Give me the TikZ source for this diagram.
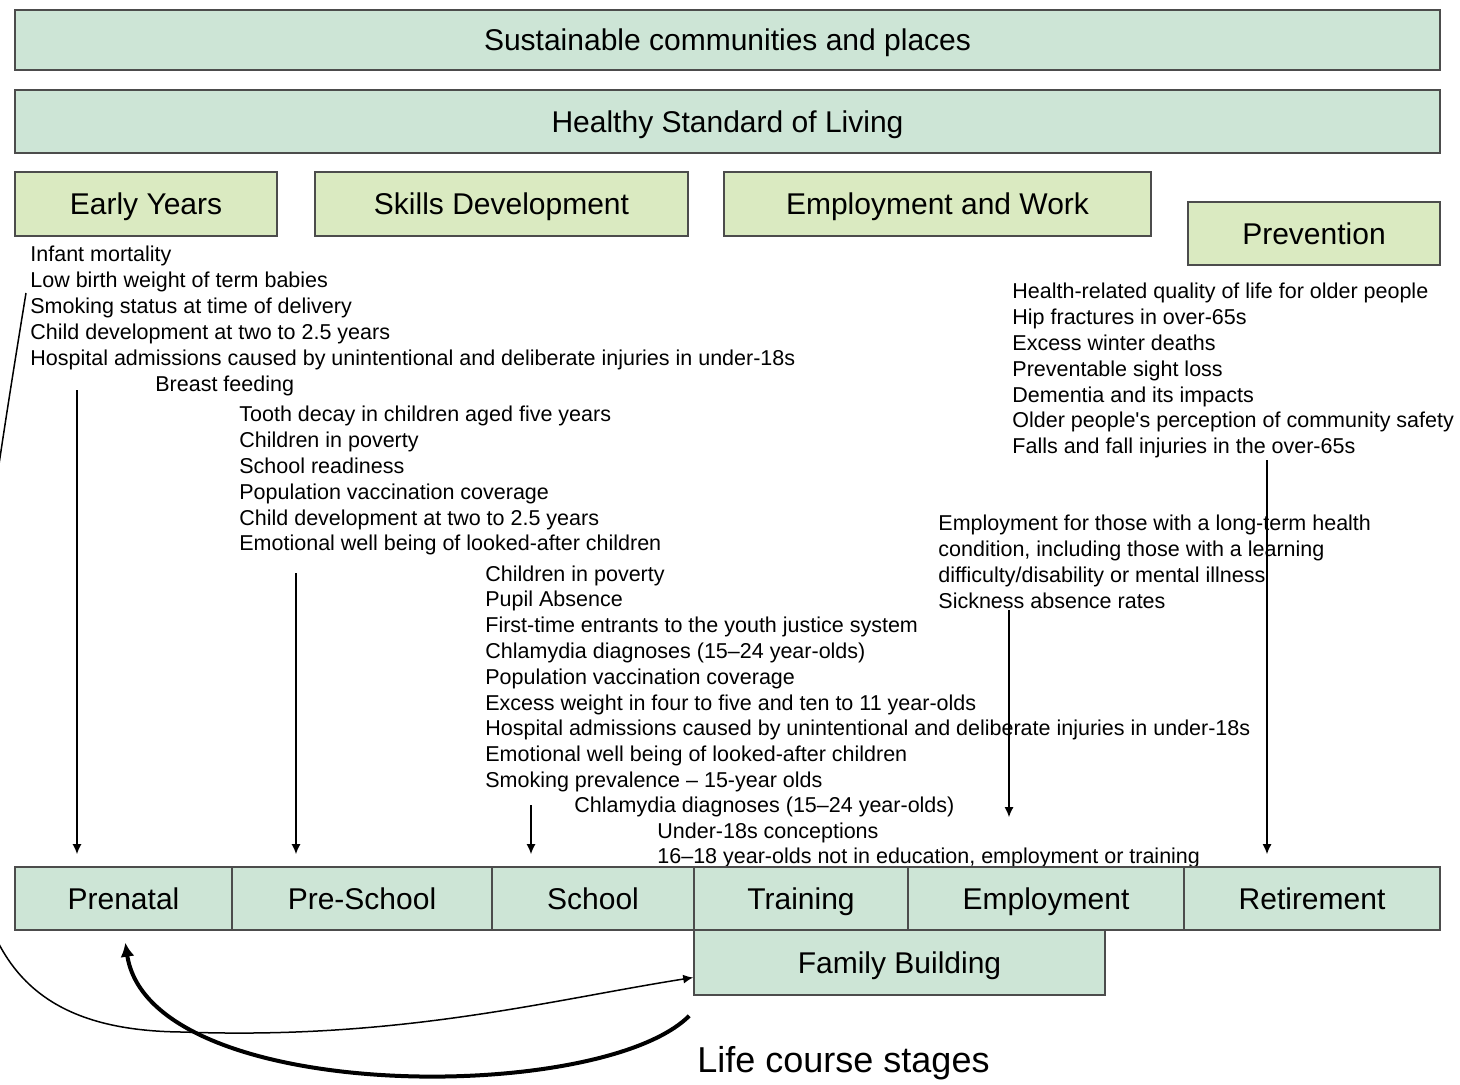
\documentclass[tikz,border=0pt]{standalone}
\usepackage{fontspec}
\setmainfont{Liberation Sans}[Ligatures=TeXOff]
\usepackage{tikz}
\usetikzlibrary{arrows.meta}
\definecolor{mint}{HTML}{CDE5D6}
\definecolor{leaf}{HTML}{DAEAC1}

\begin{document}
\begin{tikzpicture}[x=0.5pt, y=-0.5pt, >={Latex[length=5pt,width=4.5pt]},
    band/.style={draw=black!70, line width=0.8pt, fill=mint, inner sep=0pt, text height=13pt, text depth=2.3pt, font=\fontsize{15}{18}\selectfont},
    theme/.style={band, fill=leaf, minimum height=32pt},
    stage/.style={band, minimum height=31.5pt},
    indic/.style={anchor=north west, align=left, inner sep=0pt, font=\fontsize{10.75}{12.9}\selectfont},
    feed/.style={->, line width=0.8pt}]

        \clip (0,0) rectangle (1460,1084);
        \fill[white] (0,0) rectangle (1460,1084);

        % Overarching bands
        \node[band, minimum width=712.5pt, minimum height=30pt] (sus) at (727.5,40) {Sustainable communities and places};
        \node[band, minimum width=712.5pt, minimum height=31.5pt] (hsl) at (727.5,121.5) {Healthy Standard of Living};

        % Policy themes
        \node[theme, minimum width=131pt] (early) at (146,204) {Early Years};
        \node[theme, minimum width=186.5pt] (skills) at (501.5,204) {Skills Development};
        \node[theme, minimum width=213.5pt] (work) at (937.5,204) {Employment and Work};
        \node[theme, minimum width=126pt, minimum height=31.5pt] (prev) at (1314,233.5) {Prevention};

        % Indicators
        \node[indic] (eyind) at (30,246) {Infant mortality\\
            Low birth weight of term babies\\
            Smoking status at time of delivery\\
            Child development at two to 2.5 years\\
            Hospital admissions caused by unintentional and deliberate injuries in under-18s};
        \node[indic] (bf) at (155,376) {Breast feeding};
        \node[indic] (sdind) at (239,406) {Tooth decay in children aged five years\\
            Children in poverty\\
            School readiness\\
            Population vaccination coverage\\
            Child development at two to 2.5 years\\
            Emotional well being of looked-after children};
        \node[indic] (scind) at (485,565) {Children in poverty\\
            Pupil Absence\\
            First-time entrants to the youth justice system\\
            Chlamydia diagnoses (15–24 year-olds)\\
            Population vaccination coverage\\
            Excess weight in four to five and ten to 11 year-olds\\
            Hospital admissions caused by unintentional and deliberate injuries in under-18s\\
            Emotional well being of looked-after children\\
            Smoking prevalence – 15-year olds};
        \node[indic] (chl) at (574,796) {Chlamydia diagnoses (15–24 year-olds)};
        \node[indic] (trind) at (657,822) {Under-18s conceptions\\
            16–18 year-olds not in education, employment or training};
        \node[indic] (pvind) at (1012,283) {Health-related quality of life for older people\\
            Hip fractures in over-65s\\
            Excess winter deaths\\
            Preventable sight loss\\
            Dementia and its impacts\\
            Older people's perception of community safety\\
            Falls and fall injuries in the over-65s};
        \node[indic] (ewind) at (938,515) {Employment for those with a long-term health\\
            condition, including those with a learning\\
            difficulty/disability or mental illness\\
            Sickness absence rates};

        % Life course stages
        \node[stage, minimum width=108.5pt] (pren) at (123.5,898.5) {Prenatal};
        \node[stage, minimum width=130pt] (presch) at (362,898.5) {Pre-School};
        \node[stage, minimum width=101pt] (school) at (593,898.5) {School};
        \node[stage, minimum width=107pt] (train) at (801,898.5) {Training};
        \node[stage, minimum width=138pt] (employ) at (1046,898.5) {Employment};
        \node[stage, minimum width=128pt] (retire) at (1312,898.5) {Retirement};
        \node[band, minimum width=205.5pt, minimum height=32.5pt] (fam) at (899.5,962.5) {Family Building};
        \node[anchor=west, inner sep=0pt, font=\fontsize{18}{21}\selectfont] (lcs) at (697,1063) {Life course stages};

        % Feeds into the stages
        \coordinate (eyend) at (77,390);
        \coordinate (sdend) at (296,573);
        \coordinate (scend) at (531,805);
        \coordinate (ewend) at (1009,610);
        \coordinate (pvend) at (1267,460);
        \draw[feed, shorten >=6pt] (eyend) -- (eyend |- pren.north);
        \draw[feed, shorten >=6pt] (sdend) -- (sdend |- presch.north);
        \draw[feed, shorten >=6pt] (scend) -- (scend |- school.north);
        \draw[feed, shorten >=24.5pt] (ewend) -- (ewend |- employ.north);
        \draw[feed, shorten >=6pt] (pvend) -- (pvend |- retire.north);

        % Loops round the life course
        \coordinate (loop) at (26,293);
        \coordinate (back) at ([shift={(-2pt,-10pt)}]fam.south west);
        \draw[->, line width=0.75pt] (loop) .. controls (-60,820) and (-80,1030) .. (183,1032)
            .. controls (400,1040) and (550,1000) .. ([yshift=-7.5pt]fam.west);
        \draw[-{Latex[length=7pt,width=7pt]}, line width=2pt, shorten >=6pt] (back) .. controls (600,1105) and (150,1105) .. (pren.south);
    \end{tikzpicture}
\end{document}
